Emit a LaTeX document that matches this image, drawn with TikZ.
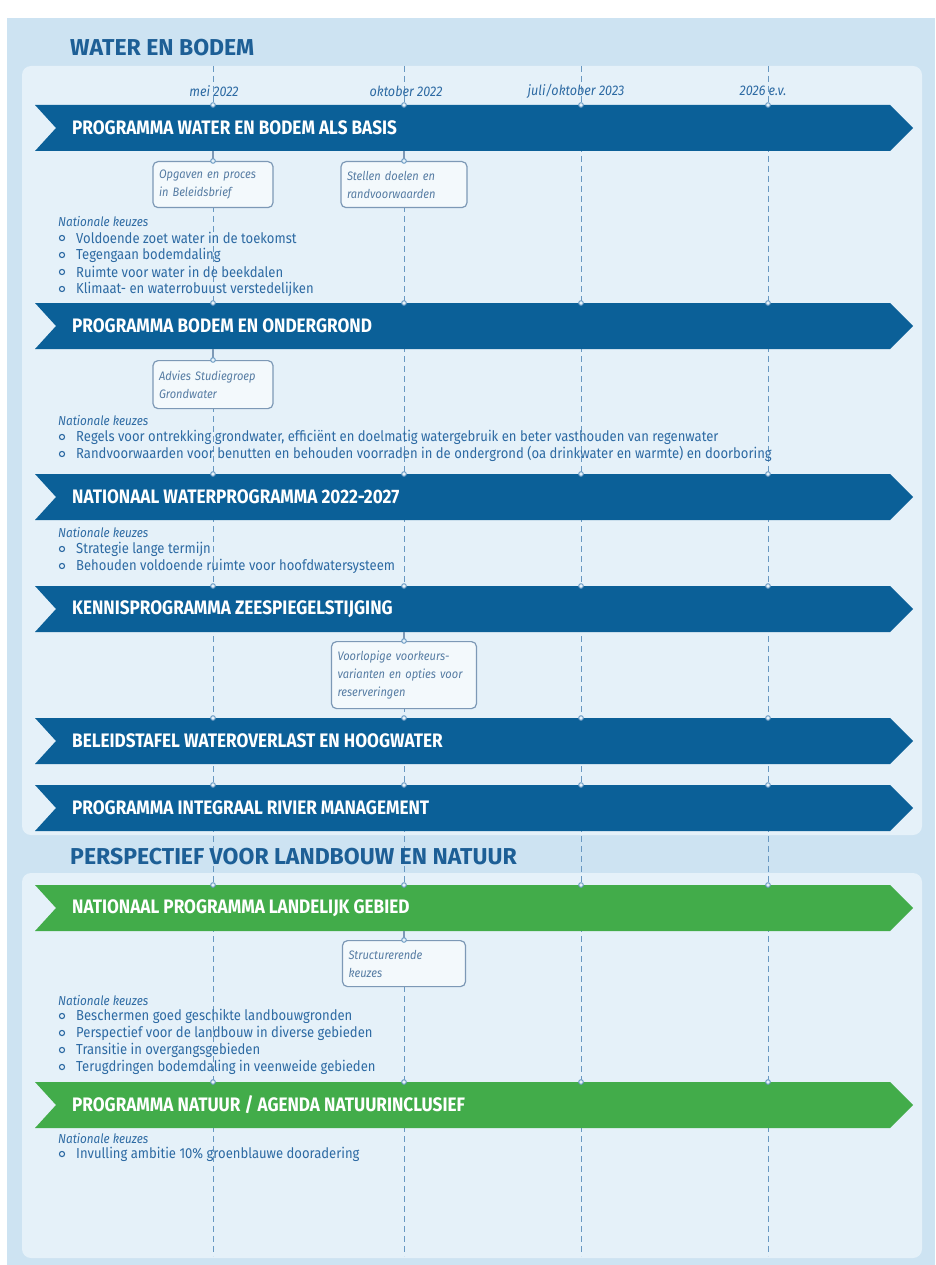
\documentclass[tikz,border=0pt]{standalone}
\usepackage{fontspec}
\setmainfont{Fira Sans}
\newfontfamily\bannerfont[FakeStretch=0.88]{Fira Sans}
\newfontfamily\narrowfont[FakeStretch=0.9]{Fira Sans}
\usetikzlibrary{positioning}

\definecolor{outerbg}{RGB}{205,227,242}
\definecolor{innerbg}{RGB}{229,241,249}
\definecolor{waterblue}{RGB}{11,96,152}
\definecolor{landgreen}{RGB}{66,172,74}
\definecolor{titleblue}{RGB}{29,95,150}
\definecolor{textblue}{RGB}{45,106,163}
\definecolor{boxtext}{RGB}{86,124,163}
\definecolor{boxline}{RGB}{125,153,182}
\definecolor{boxfill}{RGB}{243,249,252}
\definecolor{dashblue}{RGB}{104,152,194}

% banner: name, y of centre, colour, text
\newcommand\banner[4]{%
  \fill[#3] (35,#2-23) -- (890,#2-23) -- (913,#2) -- (890,#2+23)
    -- (35,#2+23) -- (56,#2) -- cycle;
  \node[bannertext] (#1) at (72,#2) {#4};
  \coordinate (#1-base) at (35,#2+23);
  \foreach \x in {213,404,581,768} \draw[knot] (\x,#2-23) circle (2.3);
}

% list of keuzes: name, y of heading, items
\newcommand\keuzes[3]{%
  \node[keuze] (#1) at (58,#2) {Nationale keuzes};
  \foreach \t [count=\i] in {#3} {
    \node[item] (#1-\i) at (76,{#2+16+17*(\i-1)}) {\t};
    \draw[bul] ([xshift=-14pt]#1-\i.west) circle (2.6);
  }
}

\begin{document}
\begin{tikzpicture}[x=1pt,y=-1pt,
  panel/.style={fill=innerbg, rounded corners=9pt},
  title/.style={font=\bfseries\fontsize{23}{25}\selectfont, text=titleblue, inner sep=0pt, anchor=west},
  bannertext/.style={font=\bannerfont\bfseries\fontsize{19.5}{21}\selectfont, text=white, inner sep=0pt, anchor=west},
  datum/.style={font=\narrowfont\itshape\fontsize{14}{15}\selectfont, text=textblue, inner sep=1pt},
  stepbox/.style={draw=boxline, line width=1.2pt, fill=boxfill, rounded corners=5pt,
    font=\narrowfont\itshape\fontsize{12.3}{18}\selectfont, text=boxtext, align=left,
    inner xsep=6pt, inner ysep=4pt, anchor=north},
  keuze/.style={font=\narrowfont\itshape\fontsize{13}{14}\selectfont, text=textblue, inner sep=0pt, anchor=west},
  item/.style={font=\narrowfont\fontsize{14.5}{16}\selectfont, text=textblue, inner sep=0pt, anchor=west},
  bul/.style={draw=textblue, line width=1.1pt, fill=innerbg},
  timeline/.style={draw=dashblue, line width=0.9pt, dash pattern=on 6pt off 4pt},
  link/.style={draw=boxline, line width=1.2pt},
  knot/.style={draw=dashblue, line width=0.9pt, fill=innerbg}
]
\useasboundingbox (0,0) rectangle (935,1265);

% background and panels
\fill[outerbg] (7,18) rectangle (935,1265);
\fill[panel] (22,66) rectangle (922,835);
\fill[panel] (22,873) rectangle (922,1258);

% timeline
\foreach \x/\n in {213/t1,404/t2,581/t3,768/t4} {
  \coordinate (\n) at (\x,66);
  \coordinate (\n-end) at (\x,1256);
  \draw[timeline] (\n) -- (\n-end);
}
\node[datum] (d1) at (214,91) {mei 2022};
\node[datum] (d2) at (406,91) {oktober 2022};
\node[datum] (d3) at (576,91) {juli/oktober 2023};
\node[datum] (d4) at (763,91) {2026 e.v.};

\node[title] (water) at (70,48) {WATER EN BODEM};
\node[title] (landbouw) at (70,857) {PERSPECTIEF VOOR LANDBOUW EN NATUUR};

% water en bodem
\banner{b1}{128}{waterblue}{PROGRAMMA WATER EN BODEM ALS BASIS}
\node[stepbox, text width=108pt, minimum height=46pt] (opgaven) at (213,161)
  {Opgaven en proces\\in Beleidsbrief};
\node[stepbox, text width=114pt, minimum height=46pt] (doelen) at (404,161)
  {Stellen doelen en\\randvoorwaarden};
\draw[link] (opgaven.north |- b1-base) -- (opgaven.north);
\draw[link] (doelen.north |- b1-base) -- (doelen.north);
\draw[knot] (opgaven.north) circle (2.3);
\draw[knot] (doelen.north) circle (2.3);
\keuzes{k1}{222}{Voldoende zoet water in de toekomst, Tegengaan bodemdaling,
  Ruimte voor water in de beekdalen, Klimaat- en waterrobuust verstedelijken}

\banner{b2}{326}{waterblue}{PROGRAMMA BODEM EN ONDERGROND}
\node[stepbox, text width=108pt, minimum height=48pt] (advies) at (213,360)
  {Advies Studiegroep\\Grondwater};
\draw[link] (advies.north |- b2-base) -- (advies.north);
\draw[knot] (advies.north) circle (2.3);
\keuzes{k2}{421}{{Regels voor ontrekking grondwater, efficiënt en doelmatig watergebruik en beter vasthouden van regenwater},
  {Randvoorwaarden voor benutten en behouden voorraden in de ondergrond (oa drinkwater en warmte) en doorboring}}

\banner{b3}{497}{waterblue}{NATIONAAL WATERPROGRAMMA 2022-2027}
\keuzes{k3}{533}{Strategie lange termijn, Behouden voldoende ruimte voor hoofdwatersysteem}

\banner{b4}{609}{waterblue}{KENNISPROGRAMMA ZEESPIEGELSTIJGING}
\node[stepbox, text width=133pt, minimum height=67pt] (voorkeur) at (404,641)
  {Voorlopige voorkeurs-\\varianten en opties voor\\reserveringen};
\draw[link] (voorkeur.north |- b4-base) -- (voorkeur.north);
\draw[knot] (voorkeur.north) circle (2.3);

\banner{b5}{741}{waterblue}{BELEIDSTAFEL WATEROVERLAST EN HOOGWATER}
\banner{b6}{808}{waterblue}{PROGRAMMA INTEGRAAL RIVIER MANAGEMENT}

% landbouw en natuur
\banner{g1}{908}{landgreen}{NATIONAAL PROGRAMMA LANDELIJK GEBIED}
\node[stepbox, text width=111pt, minimum height=46pt] (structuur) at (404,940)
  {Structurerende\\keuzes};
\draw[link] (structuur.north |- g1-base) -- (structuur.north);
\draw[knot] (structuur.north) circle (2.3);
\keuzes{k4}{1000}{Beschermen goed geschikte landbouwgronden, Perspectief voor de landbouw in diverse gebieden,
  Transitie in overgangsgebieden, Terugdringen bodemdaling in veenweide gebieden}

\banner{g2}{1105}{landgreen}{PROGRAMMA NATUUR / AGENDA NATUURINCLUSIEF}
\keuzes{k5}{1138}{Invulling ambitie 10\% groenblauwe dooradering}

\end{tikzpicture}
\end{document}
